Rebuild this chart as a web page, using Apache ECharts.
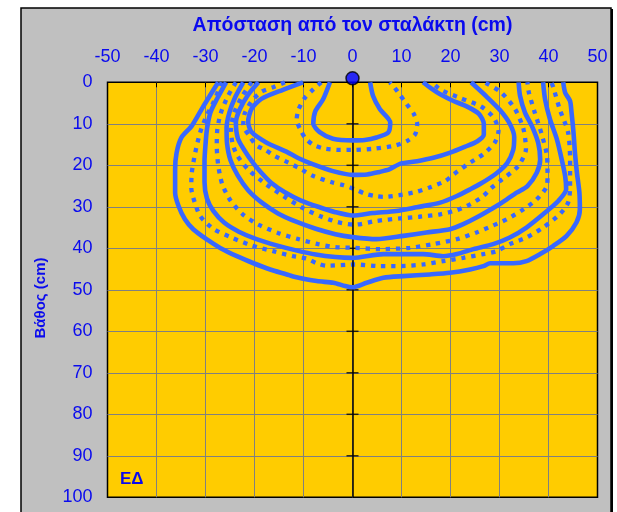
<!DOCTYPE html>
<html><head><meta charset="utf-8">
<script src="https://cdn.jsdelivr.net/npm/echarts@6/dist/echarts.min.js"></script>
<style>html,body{margin:0;padding:0;background:#fff}#c{width:617px;height:512px}</style>
</head><body><div id="c"></div>
<script>
// ---- data (x = distance from dripper, cm; y = depth, cm) ----
const yTicks = [10,20,30,40,50,60,70,80,90];
const dripper = [[0,0]];
const c1 = [[-4.6,0],[-6.0,4.1],[-7.6,7],[-8.0,10.0],[-6.7,12.0],[-4.0,13.6],[0,14.0],[2.5,13.9],[4.9,13.3],[7.3,12.1],[7.7,9.7],[5.6,6.5],[4.2,3.3],[3.6,0]];
const d1 = [[-6.4,0],[-8.0,1.7],[-9.7,3.7],[-11.0,6.5],[-11.4,9.0],[-10.6,11.5],[-9.6,13.5],[-8.1,15.0],[-6.0,15.9],[-2.5,16.3],[0,16.3],[4.5,16.0],[8.5,15.3],[11.2,14.1],[12.8,12.5],[13.2,10.0],[12.5,7.6],[11.0,5.2],[9.8,3.2],[8.6,1.3],[7.6,0]];
const c2 = [[-10.1,0],[-14.2,1.8],[-18.6,4.0],[-20.6,6.4],[-21.3,9.5],[-20.6,12.0],[-17.6,14.5],[-13.5,16.7],[-11.0,18.3],[-8.0,19.8],[-4.0,21.4],[0,22.3],[3.0,22.2],[5.5,21.6],[7.5,21.0],[9.8,19.6],[13.2,19.0],[16.5,18.2],[19.8,17.0],[23.0,15.5],[25.5,14.2],[26.8,12.6],[26.8,10.0],[25.8,7.6],[23.3,5.8],[20.6,4.5],[17.9,2.9],[16.2,1.6],[14.4,0]];
const d2 = [[-13.8,0],[-16.2,1.2],[-18.6,2.3],[-20.6,4.6],[-22.0,7.5],[-22.3,10.3],[-21.0,13.0],[-19.6,15.2],[-17.8,16.3],[-15.8,17.8],[-13.7,19.0],[-11.0,20.6],[-8.0,22.6],[-3.9,24.2],[-1.8,24.8],[0.5,25.8],[2.5,26.8],[4.5,27.4],[6.5,27.6],[9.5,27.2],[13.0,26.4],[15.6,25.4],[18.9,23.8],[20.6,22.2],[23.3,19.9],[26.7,17.3],[29.0,14.6],[29.8,11.7],[28.8,8.5],[26.2,5.8],[22.0,3.8],[18.0,1.8],[16.2,0]];
const c3 = [[-19.2,0],[-21.3,3.0],[-23.0,6.5],[-23.8,9.7],[-23.4,13.5],[-22.1,16.3],[-20.3,19.4],[-18.6,21.8],[-16.6,24.2],[-13.8,26.5],[-10.5,28.5],[-7.0,30.0],[-3.5,31.3],[0,32.1],[4.2,31.5],[9.0,31.0],[13.1,30.1],[17.9,29.0],[21.3,27.4],[24.0,25.8],[26.2,24.4],[29.4,21.9],[31.6,19.4],[32.8,16.3],[33.0,13.2],[32.1,10.0],[30.1,6.7],[27.4,3.5],[24.2,0]];
const d3 = [[-20.6,0],[-22.6,3.5],[-24.2,7.5],[-24.8,11.3],[-24.5,14.6],[-23.6,17.5],[-21.3,21.0],[-17.6,24.6],[-14.0,27.5],[-10.3,30.2],[-6.5,32.3],[-3.0,33.7],[0.5,34.3],[4.9,33.4],[9.7,32.8],[13.6,32.4],[17.9,31.8],[21.3,30.8],[24.0,29.4],[26.7,27.4],[28.3,25.5],[30.1,23.8],[33.8,20.2],[35.4,16.1],[34.9,11.3],[33.2,6.5],[30.4,2.5],[27.0,0]];
const c4 = [[-22.3,0],[-23.9,3.5],[-25.1,7.2],[-25.7,11.0],[-25.6,14.8],[-24.9,18.8],[-23.4,22.5],[-21.3,26.0],[-18.5,29.0],[-15.2,31.6],[-11.5,33.6],[-7.5,35.3],[-3.5,36.6],[0,37.3],[4.9,37.8],[10.4,37.0],[15.1,36.2],[19.9,35.4],[22.6,34.2],[25.3,32.6],[29.4,29.8],[31.5,28.2],[33.5,26.6],[35.7,25.0],[37.6,21.8],[38.3,18.6],[37.9,14.6],[36.6,10.5],[35.2,7.3],[34.2,3.3],[33.9,0]];
const d4 = [[-23.8,0],[-25.5,3.5],[-26.9,7.5],[-27.6,11.5],[-27.7,15.5],[-27.4,20.0],[-26.6,24.5],[-24.9,28.5],[-22.4,31.8],[-19.2,34.3],[-15.2,36.3],[-11.0,37.8],[-7.0,39.0],[-3.5,39.7],[0.5,39.9],[5.6,40.2],[11.7,39.9],[16.5,39.0],[21.3,37.8],[25.3,36.2],[28.5,34.6],[31.5,33.0],[34.9,30.6],[37.6,28.2],[39.6,25.2],[39.8,22.6],[39.7,17.8],[38.6,12.5],[37.2,7.3],[36.0,2.5],[35.7,0]];
const c5 = [[-25.8,0],[-27.7,4.1],[-29.0,7.3],[-29.7,11.3],[-30.0,15.0],[-30.2,19.0],[-30.2,24.0],[-29.7,28.0],[-28.4,31.0],[-26.2,33.8],[-23.2,36.0],[-19.6,37.8],[-15.5,39.3],[-11.5,40.5],[-7.5,41.5],[-3.5,42.1],[0,42.3],[6.3,41.4],[14.4,41.4],[18.5,41.9],[21.3,41.4],[24.7,40.2],[28.7,39.0],[32.1,37.4],[35.5,35.0],[38.9,31.8],[42.0,28.6],[43.6,25.8],[43.4,22.6],[42.7,18.6],[41.7,13.7],[40.3,8.9],[39.3,4.1],[38.9,0]];
const d5 = [[-26.7,0],[-28.4,4.9],[-29.8,8.1],[-31.1,12.1],[-32.1,17.0],[-32.8,21.8],[-32.9,25.4],[-32.5,27.8],[-31.1,32.2],[-28.4,35.3],[-24.7,37.4],[-20.6,39.3],[-16.2,40.7],[-12.1,41.9],[-9.3,42.5],[-7.3,43.6],[-5.3,44.2],[-1.2,44.0],[0.5,43.9],[5.6,44.3],[9.7,44.3],[14.4,43.9],[18.5,43.1],[22.6,42.3],[26.7,41.4],[29.4,40.7],[32.1,39.0],[35.5,37.4],[38.9,35.0],[42.3,31.8],[44.0,29.0],[44.4,25.5],[44.4,18.6],[44.0,12.1],[42.3,6.5],[41.0,1.3],[40.6,0]];
const c6 = [[-27.4,0],[-30.4,5.7],[-32.8,10.5],[-34.9,13.3],[-35.9,17.0],[-36.2,21.0],[-36.2,26.6],[-35.5,29.8],[-34.2,33.0],[-32.5,35.4],[-29.8,37.8],[-27.0,39.9],[-23.6,41.9],[-20.2,43.6],[-16.8,45.1],[-13.4,46.3],[-12.1,46.8],[-7.3,47.9],[-3.9,48.3],[-1.5,49.1],[0,49.4],[2.9,48.3],[6.3,47.1],[10.4,46.7],[15.8,46.3],[19.9,45.9],[24.0,45.1],[26.7,44.3],[28.1,43.6],[32.8,43.6],[35.5,43.1],[38.3,41.4],[41.0,39.4],[43.7,37.0],[45.7,33.8],[46.4,30.6],[46.3,26.5],[45.8,21.8],[45.4,17.0],[45.1,12.1],[44.7,7.3],[44.4,4.5],[43.4,2.5],[43.0,0]];

const solidCurves = [c1, c2, c3, c4, c5, c6];
const dottedCurves = [d1, d2, d3, d4, d5];

// ---- styling ----
const BLUE = '#3868FF';
const TXT = '#0A0AEE';
const FONT = 'Liberation Sans, Arial, sans-serif';

const series = [];
series.push({
  type:'line', data:[], silent:true,
  markLine:{silent:true, symbol:'none', label:{show:false},
    lineStyle:{color:'#000', width:1.5, type:'solid'}, data:[{xAxis:0}]}
});
series.push({
  type:'scatter', silent:true, symbol:'rect', symbolSize:[12,1.5],
  itemStyle:{color:'#000'}, data: yTicks.map(v => [0, v]), z:3
});
dottedCurves.forEach(d => series.push({
  type:'line', data:d, showSymbol:false, smooth:0.25, silent:true, z:4,
  lineStyle:{color:BLUE, width:4.3, type:[4.3,5.8], cap:'butt'}
}));
solidCurves.forEach(d => series.push({
  type:'line', data:d, showSymbol:false, smooth:0.25, silent:true, z:5,
  lineStyle:{color:BLUE, width:4.6, type:'solid', join:'round'}
}));
series.push({
  type:'scatter', data:dripper, symbolSize:13, symbolOffset:[0,-4], clip:false, z:10,
  itemStyle:{color:'#0000FF', borderColor:'#000', borderWidth:1.5}
});

const chart = echarts.init(document.getElementById('c'), null, {renderer:'canvas'});
chart.setOption({
  animation:false,
  backgroundColor:'#ffffff',
  grid:{left:107.5, top:82.3, width:490, height:415, show:true,
        backgroundColor:'#FFCC00', borderColor:'#000', borderWidth:1.5},
  xAxis:{type:'value', min:-50, max:50, interval:10, position:'top',
    axisLine:{show:false},
    axisTick:{show:true, inside:true, length:5, lineStyle:{color:'#000', width:1}},
    axisLabel:{color:TXT, fontSize:18, fontFamily:FONT, margin:16},
    splitLine:{show:true, showMinLine:false, showMaxLine:false, lineStyle:{color:'#808080', width:1}}},
  yAxis:{type:'value', min:0, max:100, interval:10, inverse:true,
    axisLine:{show:false}, axisTick:{show:false},
    axisLabel:{color:TXT, fontSize:18, fontFamily:FONT, margin:15},
    splitLine:{show:true, showMinLine:false, showMaxLine:false, lineStyle:{color:'#808080', width:1}}},
  graphic:[
    {type:'rect', z:-100, silent:true, shape:{x:21, y:8, width:590, height:520},
     style:{fill:'#C0C0C0', stroke:'#000', lineWidth:1.5}},
    {type:'rect', z:-99, silent:true, shape:{x:611, y:9, width:2, height:520},
     style:{fill:'#000'}},
    {type:'text', z:100, silent:true, x:352.5, y:26,
     style:{text:'Απόσταση από τον σταλάκτη (cm)', fill:TXT, font:'bold 19.5px ' + FONT,
            textAlign:'center', textVerticalAlign:'middle'}},
    {type:'text', z:100, silent:true, x:41, y:298, rotation:Math.PI/2,
     style:{text:'Βάθος (cm)', fill:TXT, font:'bold 15px ' + FONT,
            textAlign:'center', textVerticalAlign:'middle'}},
    {type:'text', z:100, silent:true, x:120, y:479,
     style:{text:'ΕΔ', fill:TXT, font:'bold 17px ' + FONT,
            textAlign:'left', textVerticalAlign:'middle'}}
  ],
  series: series
});
</script>
</body></html>
